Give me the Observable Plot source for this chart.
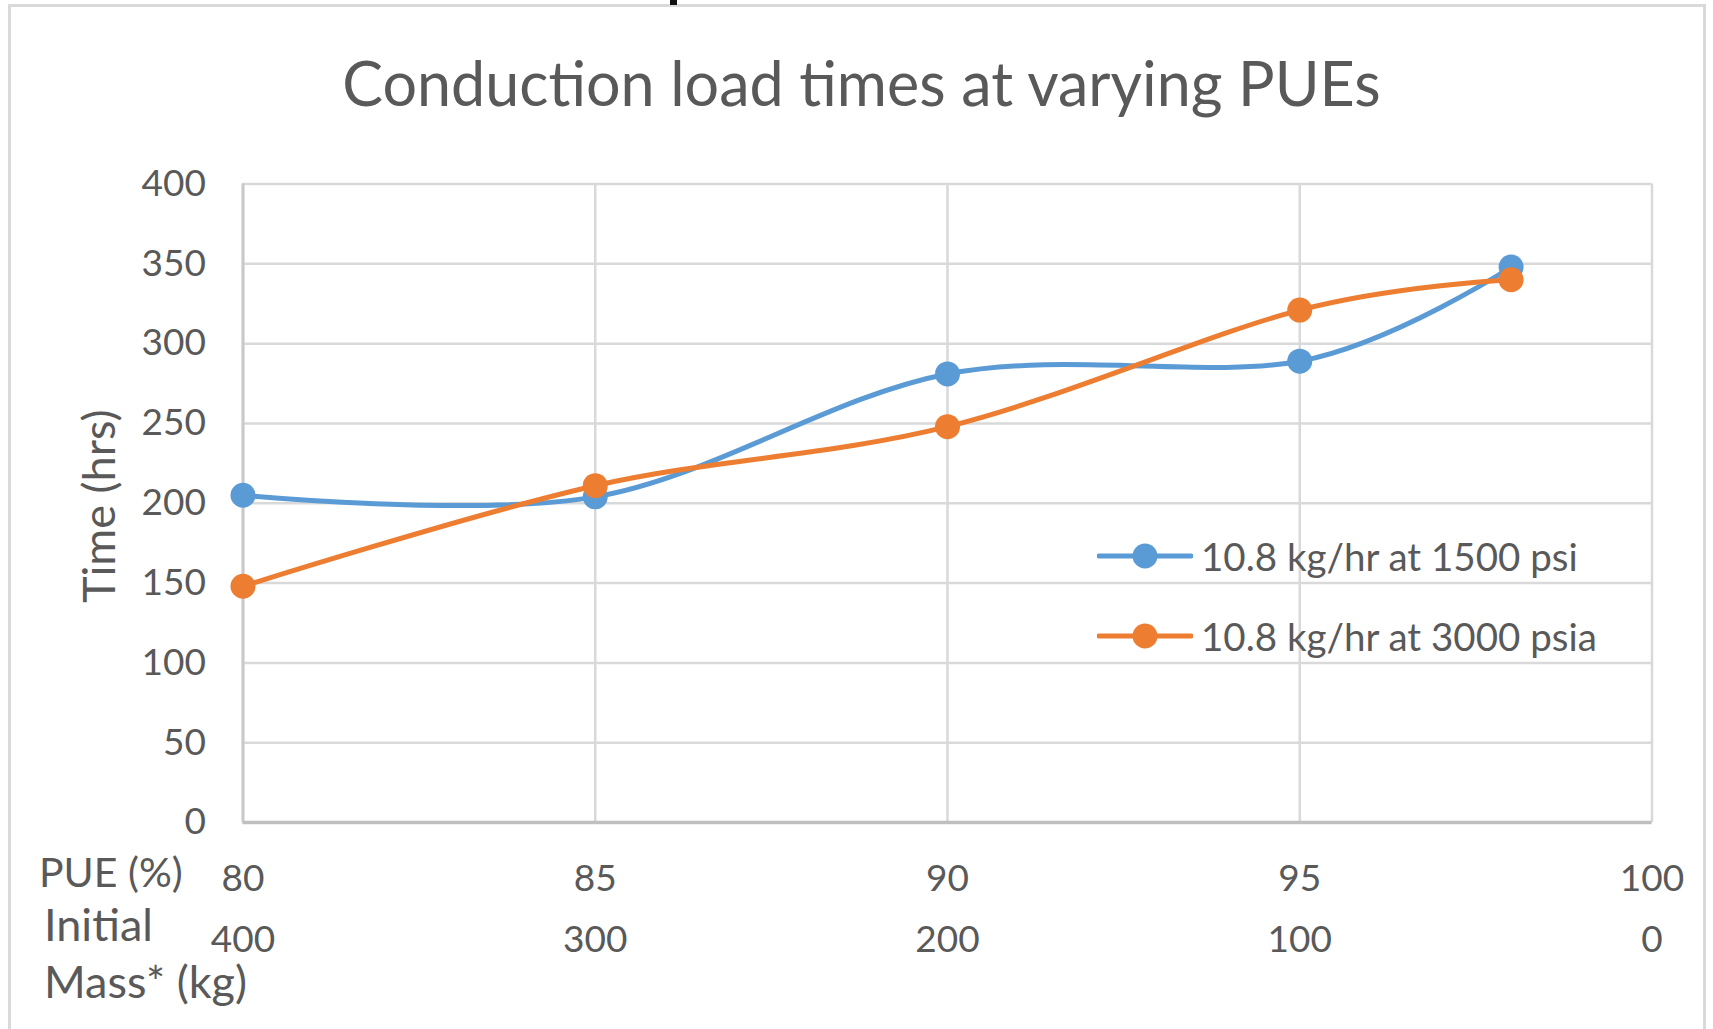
<!DOCTYPE html>
<html>
<head>
<meta charset="utf-8">
<script src="https://cdn.jsdelivr.net/npm/d3@7"></script>
<script src="https://cdn.jsdelivr.net/npm/@observablehq/plot@0.6"></script>
<style>
  html, body { margin: 0; padding: 0; background: #fff; }
  body { font-family: Lato, "Open Sans", sans-serif; color: #595959; }
  #wrap { position: relative; width: 1713px; height: 1029px; overflow: hidden; }
  #frame { position: absolute; left: 8px; top: 4px; width: 1698px; height: 1100px;
           border: 3px solid #d9d9d9; box-sizing: border-box; pointer-events: none; }
  #tick { position: absolute; left: 670px; top: 0; width: 7px; height: 5px; background: #111; }
  #title { position: relative; height: 130px; }
  #title span { position: absolute; left: 10px; right: 0; top: 52px; text-align: center;
                font-size: 61px; line-height: 1; color: #595959; white-space: nowrap; }
  #chart svg { display: block; }
  .leg { position: absolute; left: 1097px; height: 40px; display: flex; align-items: center;
         font-size: 38.5px; line-height: 40px; color: #595959; white-space: nowrap; }
  .leg svg { margin-right: 8px; }
</style>
</head>
<body>
<div id="wrap">
  <div id="frame"></div>
  <div id="tick"></div>
  <div id="title"><span>Conduction load times at varying PUEs</span></div>
  <div id="chart"></div>
  <div id="legend"></div>
</div>
<script>
// ---- data ----
const pue = [80, 85, 90, 95, 98];
const blueTimes = [205, 204, 281, 289, 348];
const orangeTimes = [148, 211, 248, 321, 340];
const seriesNames = ["10.8 kg/hr at 1500 psi", "10.8 kg/hr at 3000 psia"];
const seriesColors = ["#5B9BD5", "#ED7D31"];
const xTicks = [80, 85, 90, 95, 100];
const massTicks = [400, 300, 200, 100, 0];
const yTicks = [0, 50, 100, 150, 200, 250, 300, 350, 400];
const yLabel = "Time (hrs)";
const rowLabel1 = "PUE (%)";
const rowLabel2 = "Initial\nMass* (kg)";

const blueData = pue.map((x, i) => ({x, y: blueTimes[i], s: seriesNames[0]}));
const orangeData = pue.map((x, i) => ({x, y: orangeTimes[i], s: seriesNames[1]}));
const massData = xTicks.map((x, i) => ({x, m: String(massTicks[i])}));

const fs = 37;
const chart = Plot.plot({
  width: 1713,
  height: 899,
  marginTop: 53.5,
  marginBottom: 207,
  marginLeft: 242.5,
  marginRight: 61.5,
  style: {color: "#595959", fontFamily: "Lato, 'Open Sans', sans-serif", background: "transparent", overflow: "visible"},
  x: {domain: [80, 100]},
  y: {domain: [0, 400]},
  color: {domain: seriesNames, range: seriesColors},
  marks: [
    Plot.gridY(yTicks, {stroke: "#d9d9d9", strokeOpacity: 1, strokeWidth: 2.5}),
    Plot.gridX(xTicks, {stroke: "#d9d9d9", strokeOpacity: 1, strokeWidth: 2.5}),
    Plot.ruleX([80], {stroke: "#c9c9c9", strokeWidth: 3}),
    Plot.ruleY([0], {stroke: "#bfbfbf", strokeWidth: 3.5}),
    Plot.axisY(yTicks, {tickSize: 0, tickPadding: 37, fontSize: fs, label: null, tickFormat: d => String(d)}),
    Plot.axisX(xTicks, {tickSize: 0, tickPadding: 42, fontSize: fs, label: null, tickFormat: d => String(d)}),
    Plot.text(massData, {x: "x", text: "m", frameAnchor: "bottom", textAnchor: "middle", dy: 118, fontSize: fs, lineAnchor: "middle", fill: "#595959"}),
    Plot.text([rowLabel1], {frameAnchor: "bottom-left", textAnchor: "start", dx: -204, dy: 51, fontSize: 41, lineAnchor: "middle", fill: "#595959"}),
    Plot.text([rowLabel2], {frameAnchor: "bottom-left", textAnchor: "start", dx: -199, dy: 129, fontSize: 45, lineHeight: 1.27, lineAnchor: "middle", fill: "#595959"}),
    Plot.text([yLabel], {frameAnchor: "left", textAnchor: "middle", rotate: -90, dx: -142.5, dy: 3, fontSize: 45, lineAnchor: "middle", fill: "#595959"}),
    Plot.line(blueData, {x: "x", y: "y", stroke: "s", strokeWidth: 5, curve: "cardinal", tension: 0}),
    Plot.dot(blueData, {x: "x", y: "y", fill: "s", r: 12.5, stroke: null}),
    Plot.line(orangeData, {x: "x", y: "y", stroke: "s", strokeWidth: 5, curve: "cardinal", tension: 0}),
    Plot.dot(orangeData, {x: "x", y: "y", fill: "s", r: 12.5, stroke: null})
  ]
});
document.getElementById("chart").appendChild(chart);

// legend overlay (inside plot area, as in the reference)
const legendTops = [536, 616];
const legend = document.getElementById("legend");
seriesNames.forEach((name, i) => {
  const row = document.createElement("div");
  row.className = "leg";
  row.style.top = legendTops[i] + "px";
  row.innerHTML = `<svg width="96" height="30" viewBox="0 0 96 30">
      <line x1="2" y1="15" x2="94" y2="15" stroke="${seriesColors[i]}" stroke-width="5" stroke-linecap="round"/>
      <circle cx="48" cy="15" r="12.5" fill="${seriesColors[i]}"/></svg><span>${name}</span>`;
  legend.appendChild(row);
});
</script>
</body>
</html>
